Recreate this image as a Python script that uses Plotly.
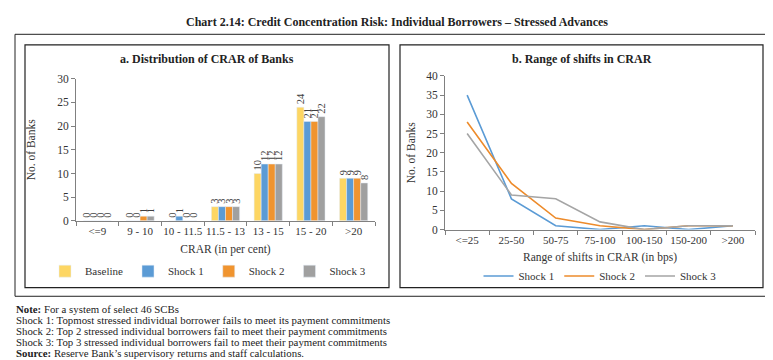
import plotly.graph_objects as go

# ---- data ----
crar_bins = ["<=9", "9 - 10", "10 - 11.5", "11.5 - 13", "13 - 15", "15 - 20", ">20"]
baseline = [0, 0, 0, 3, 10, 24, 9]
shock1_bar = [0, 0, 1, 3, 12, 21, 9]
shock2_bar = [0, 1, 0, 3, 12, 21, 9]
shock3_bar = [0, 1, 0, 3, 12, 22, 8]

shift_bins = ["<=25", "25-50", "50-75", "75-100", "100-150", "150-200", ">200"]
shock1_line = [35, 8, 1, 0, 1, 0, 1]
shock2_line = [28, 12, 3, 1, 0, 1, 1]
shock3_line = [25, 9, 8, 2, 0, 1, 1]

W, H = 773, 360
SERIF = "Liberation Serif"
C_BASE, C_S1, C_S2, C_S3 = "#FDD663", "#5B9BD5", "#F0942F", "#A0A0A0"

def px_x(p):
    return p / W

def px_y(p):
    return 1 - p / H

fig = go.Figure()

bar_series = [("Baseline", baseline, C_BASE), ("Shock 1", shock1_bar, C_S1),
              ("Shock 2", shock2_bar, C_S2), ("Shock 3", shock3_bar, C_S3)]
for name, vals, col in bar_series:
    fig.add_trace(go.Bar(
        x=crar_bins, y=vals, name=name, marker_color=col,
        text=[str(v) for v in vals], textposition="outside", textangle=-90,
        constraintext="none", cliponaxis=False,
        textfont=dict(family=SERIF, size=10.5, color="#404040"),
        xaxis="x", yaxis="y", legend="legend",
    ))

line_series = [("Shock 1", shock1_line, C_S1), ("Shock 2", shock2_line, "#ED8B2B"),
               ("Shock 3", shock3_line, "#A5A5A5")]
for name, vals, col in line_series:
    fig.add_trace(go.Scatter(
        x=shift_bins, y=vals, name=name, mode="lines",
        line=dict(color=col, width=1.6),
        xaxis="x2", yaxis="y2", legend="legend2",
    ))

xtick_font = dict(family=SERIF, size=11, color="#333333")
ytick_font = dict(family=SERIF, size=11.5, color="#333333")
title_font = dict(family=SERIF, size=11.5, color="#333333")

fig.update_layout(
    width=W, height=H,
    margin=dict(l=0, r=0, t=0, b=0),
    paper_bgcolor="white", plot_bgcolor="white",
    font=dict(family=SERIF, size=11, color="#333333"),
    barmode="group", bargap=0.34, bargroupgap=0,
    xaxis=dict(domain=[px_x(68), px_x(367)], anchor="y",
               showline=True, linecolor="#808080", linewidth=1, tickangle=0,
               ticks="outside", tickson="boundaries", ticklen=4, tickcolor="#808080",
               tickfont=xtick_font, showgrid=False,
               title=dict(text="CRAR (in per cent)", font=title_font, standoff=8)),
    yaxis=dict(domain=[px_y(214), px_y(67)], anchor="x", range=[0, 30], dtick=5,
               showline=True, linecolor="#808080", linewidth=1,
               ticks="outside", ticklen=4, tickcolor="#808080",
               tickfont=ytick_font, showgrid=False, zeroline=False,
               title=dict(text="No. of Banks", font=title_font, standoff=19)),
    xaxis2=dict(domain=[px_x(437), px_x(747)], anchor="y2", range=[-0.5, 6.5],
                showline=True, linecolor="#808080", linewidth=1, tickangle=0,
                ticks="outside", tickson="boundaries", ticklen=4, tickcolor="#808080",
                tickfont=xtick_font, showgrid=False,
                title=dict(text="Range of shifts in CRAR (in bps)", font=title_font, standoff=8)),
    yaxis2=dict(domain=[px_y(223), px_y(64)], anchor="x2", range=[0, 40], dtick=5,
                showline=True, linecolor="#808080", linewidth=1,
                ticks="outside", ticklen=4, tickcolor="#808080",
                tickfont=ytick_font, showgrid=False, zeroline=False,
                title=dict(text="No. of Banks", font=title_font, standoff=8)),
    legend=dict(orientation="h", x=px_x(200), xanchor="center", y=px_y(266), yanchor="middle",
                font=dict(family=SERIF, size=11, color="#333333"),
                itemwidth=30, tracegroupgap=0, bgcolor="rgba(0,0,0,0)"),
    legend2=dict(orientation="h", x=px_x(592), xanchor="center", y=px_y(271), yanchor="middle",
                 font=dict(family=SERIF, size=11, color="#333333"),
                 itemwidth=30, bgcolor="rgba(0,0,0,0)"),
    showlegend=True,
)

# boxes
shapes = [
    dict(type="rect", xref="paper", yref="paper", x0=px_x(7), x1=px_x(766), y0=px_y(292), y1=px_y(21),
         line=dict(color="#222222", width=1)),
    dict(type="rect", xref="paper", yref="paper", x0=px_x(17), x1=px_x(381), y0=px_y(283), y1=px_y(32),
         line=dict(color="#222222", width=1.2)),
    dict(type="rect", xref="paper", yref="paper", x0=px_x(392), x1=px_x(755), y0=px_y(283), y1=px_y(32),
         line=dict(color="#222222", width=1.2)),
]
fig.update_layout(shapes=shapes)

annotations = [
    dict(text="<b>Chart 2.14: Credit Concentration Risk: Individual Borrowers \u2013 Stressed Advances</b>",
         x=px_x(389), y=px_y(8), xanchor="center", yanchor="middle",
         font=dict(family=SERIF, size=12, color="#222222")),
    dict(text="<b>a. Distribution of CRAR of Banks</b>", x=px_x(199), y=px_y(47),
         xanchor="center", yanchor="middle", font=dict(family=SERIF, size=12, color="#222222")),
    dict(text="<b>b. Range of shifts in CRAR</b>", x=px_x(574), y=px_y(47),
         xanchor="center", yanchor="middle", font=dict(family=SERIF, size=12, color="#222222")),
]
notes = [
    "<b>Note:</b> For a system of select 46 SCBs",
    "Shock 1: Topmost stressed individual borrower fails to meet its payment commitments",
    "Shock 2: Top 2 stressed individual borrowers fail to meet their payment commitments",
    "Shock 3: Top 3 stressed individual borrowers fail to meet their payment commitments",
    "<b>Source:</b> Reserve Bank\u2019s supervisory returns and staff calculations.",
]
note_y = [305, 316.5, 328, 339.5, 351]
for t, yy in zip(notes, note_y):
    annotations.append(dict(text=t, x=px_x(6), y=px_y(yy), xanchor="left", yanchor="middle",
                            showarrow=False, font=dict(family=SERIF, size=10.8, color="#222222")))
for a in annotations:
    a.setdefault("showarrow", False)
    a["xref"] = "paper"
    a["yref"] = "paper"
fig.update_layout(annotations=annotations)

fig.write_html("out.html")
